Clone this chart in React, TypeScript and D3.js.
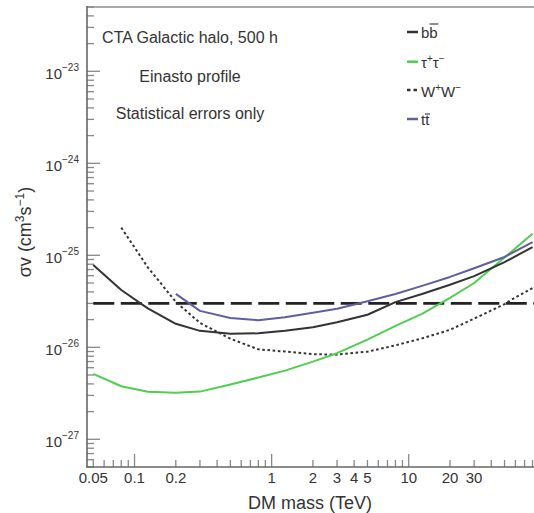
import React from "react";
import * as d3 from "d3";

// ---- data ----
const massBB = [0.05, 0.08, 0.125, 0.2, 0.3, 0.5, 0.8, 1.25, 2, 3, 5, 8, 12.5, 20, 30, 50, 80];
const svBB = [7.85e-26, 4.2e-26, 2.65e-26, 1.8e-26, 1.51e-26, 1.4e-26, 1.42e-26, 1.51e-26, 1.65e-26, 1.87e-26, 2.26e-26, 3.1e-26, 3.79e-26, 4.79e-26, 5.94e-26, 8.42e-26, 1.23e-25];

const massTau = [0.05, 0.08, 0.125, 0.2, 0.3, 0.5, 0.8, 1.25, 2, 3, 5, 8, 12.5, 20, 30, 50, 80];
const svTau = [5.14e-27, 3.77e-27, 3.28e-27, 3.2e-27, 3.3e-27, 3.94e-27, 4.69e-27, 5.58e-27, 6.98e-27, 8.63e-27, 1.21e-26, 1.71e-26, 2.31e-26, 3.45e-26, 5.0e-26, 9.46e-26, 1.72e-25];

const massWW = [0.08, 0.125, 0.2, 0.3, 0.5, 0.8, 1.25, 2, 3, 5, 8, 12.5, 20, 30, 50, 56, 80];
const svWW = [2.0e-25, 7.4e-26, 3.12e-26, 1.84e-26, 1.24e-26, 9.5e-27, 9.0e-27, 8.42e-27, 8.32e-27, 8.96e-27, 1.05e-26, 1.25e-26, 1.55e-26, 2.05e-26, 2.95e-26, 3.28e-26, 4.4e-26];

const massTT = [0.2, 0.3, 0.5, 0.8, 1.25, 2, 3, 5, 8, 12.5, 20, 30, 50, 80];
const svTT = [3.81e-26, 2.49e-26, 2.08e-26, 1.97e-26, 2.12e-26, 2.38e-26, 2.63e-26, 3.16e-26, 3.8e-26, 4.65e-26, 5.82e-26, 7.23e-26, 9.59e-26, 1.39e-25];

const thermalSV = 3e-26;
const thermalRange = [0.05, 82];

const xTickLabels = [0.05, 0.1, 0.2, 1, 2, 3, 4, 5, 10, 20, 30];
const xMajor = [0.1, 1, 10];
const yMajorExp = [-27, -26, -25, -24, -23];

const textLines = ["CTA Galactic halo, 500 h", "Einasto profile", "Statistical errors only"];

const FONT = "'Liberation Sans', Arial, Helvetica, sans-serif";

export default function App() {
  const W = 534, H = 513;
  const x = d3.scaleLog().domain([0.045, 82]).range([87, 534]);
  const y = d3.scaleLog().domain([5e-28, 5e-23]).range([467, 7]);

  const line = d3
    .line<[number, number]>()
    .x((d) => x(d[0]))
    .y((d) => y(d[1]));

  const zip = (m: number[], v: number[]) => m.map((mm, i) => [mm, v[i]] as [number, number]);

  // minor ticks
  const xMinor: number[] = [];
  for (let e = -2; e <= 1; e++) {
    for (let k = 1; k <= 9; k++) {
      const v = k * Math.pow(10, e);
      const [a, b] = x.domain();
      if (v >= a && v <= b && !xMajor.some((mv) => Math.abs(mv - v) / v < 1e-6)) xMinor.push(v);
    }
  }
  const yMinor: number[] = [];
  for (let e = -28; e <= -23; e++) {
    for (let k = 2; k <= 9; k++) {
      const v = k * Math.pow(10, e);
      if (v >= 5e-28 && v <= 5e-23) yMinor.push(v);
    }
  }

  const axisColor = "#666";
  const tickColor = "#888";
  const textColor = "#333";

  const legendX0 = 407, legendX1 = 418, legendTX = 421;
  const legendY = [32, 61.7, 90, 119];

  return (
    <div style={{ position: "absolute", left: 0, top: 0, width: W, height: H, overflow: "hidden", background: "#fff" }}>
      <svg width={W} height={H} style={{ display: "block", fontFamily: FONT }}>
        <rect x={0} y={0} width={W} height={H} fill="#fff" />

        {/* top frame */}
        <line x1={87} x2={534} y1={7} y2={7} stroke="#aaa" strokeWidth={2} />

        {/* y ticks */}
        {yMinor.map((v, i) => (
          <line key={"ym" + i} x1={87} x2={94} y1={y(v)} y2={y(v)} stroke={tickColor} strokeWidth={1.3} />
        ))}
        {yMajorExp.map((e) => (
          <line key={"yM" + e} x1={87} x2={100} y1={y(Math.pow(10, e))} y2={y(Math.pow(10, e))} stroke={tickColor} strokeWidth={1.3} />
        ))}
        {/* x ticks */}
        {xMinor.map((v, i) => (
          <line key={"xm" + i} x1={x(v)} x2={x(v)} y1={467} y2={460} stroke={tickColor} strokeWidth={1.3} />
        ))}
        {xMajor.map((v, i) => (
          <line key={"xM" + i} x1={x(v)} x2={x(v)} y1={467} y2={454} stroke={tickColor} strokeWidth={1.3} />
        ))}

        {/* axes */}
        <line x1={87} x2={87} y1={6} y2={467} stroke={axisColor} strokeWidth={1.6} />
        <line x1={86} x2={534} y1={467} y2={467} stroke={axisColor} strokeWidth={1.6} />

        {/* y labels */}
        {yMajorExp.map((e) => (
          <text key={"yl" + e} x={79} y={y(Math.pow(10, e)) + 7.5} textAnchor="end" fontSize={15} fill={textColor}>
            10
            <tspan dy={-8} fontSize={10}>{"\u2212" + Math.abs(e)}</tspan>
          </text>
        ))}
        {/* x labels */}
        {xTickLabels.map((v, i) => (
          <text key={"xl" + i} x={x(v)} y={483} textAnchor="middle" fontSize={15} fill={textColor}>
            {String(v)}
          </text>
        ))}

        {/* axis titles */}
        <text x={310} y={509} textAnchor="middle" fontSize={18} fill={textColor}>
          DM mass (TeV)
        </text>
        <text transform="translate(31,232) rotate(-90)" textAnchor="middle" fontSize={18} fill={textColor}>
          σv (cm
          <tspan dy={-7} fontSize={12}>3</tspan>
          <tspan dy={7}>s</tspan>
          <tspan dy={-7} fontSize={12}>{"\u22121"}</tspan>
          <tspan dy={7}>)</tspan>
        </text>

        {/* annotations */}
        {textLines.map((t, i) => (
          <text key={"t" + i} x={190} y={[43, 81.5, 119][i]} textAnchor="middle" fontSize={16} fill={textColor}>
            {t}
          </text>
        ))}

        {/* thermal relic dashed line */}
        <line
          x1={x(thermalRange[0])}
          x2={x(thermalRange[1])}
          y1={y(thermalSV)}
          y2={y(thermalSV)}
          stroke="#222"
          strokeWidth={2.6}
          strokeDasharray="21,6.5"
        />

        {/* curves */}
        <g fill="none" strokeLinejoin="round">
          <path d={line(zip(massWW, svWW)) || ""} stroke="#333" strokeWidth={2} strokeDasharray="2.6,2.6" />
          <path d={line(zip(massTau, svTau)) || ""} stroke="#4fce4f" strokeWidth={2} />
          <path d={line(zip(massTT, svTT)) || ""} stroke="#5e5ea0" strokeWidth={2} />
          <path d={line(zip(massBB, svBB)) || ""} stroke="#333" strokeWidth={2} />
        </g>

        {/* legend */}
        <line x1={legendX0} x2={legendX1} y1={legendY[0]} y2={legendY[0]} stroke="#333" strokeWidth={2.5} />
        <line x1={legendX0} x2={legendX1} y1={legendY[1]} y2={legendY[1]} stroke="#4fce4f" strokeWidth={2.5} />
        <line x1={legendX0} x2={legendX1} y1={legendY[2]} y2={legendY[2]} stroke="#333" strokeWidth={2.5} strokeDasharray="3.5,3" />
        <line x1={legendX0} x2={legendX1} y1={legendY[3]} y2={legendY[3]} stroke="#5e5ea0" strokeWidth={2.5} />

        <text x={legendTX} y={legendY[0] + 6} fontSize={15} fill={textColor}>bb</text>
        <line x1={429.5} x2={438.5} y1={24} y2={24} stroke={textColor} strokeWidth={1.1} />

        <text x={legendTX} y={legendY[1] + 6} fontSize={15} fill={textColor}>
          τ<tspan dy={-6} fontSize={10}>+</tspan>
          <tspan dy={6}>τ</tspan>
          <tspan dy={-6} fontSize={10}>{"\u2212"}</tspan>
        </text>

        <text x={legendTX} y={legendY[2] + 6.5} fontSize={15} fill={textColor}>
          W<tspan dy={-6} fontSize={10}>+</tspan>
          <tspan dy={6}>W</tspan>
          <tspan dy={-6} fontSize={10}>{"\u2212"}</tspan>
        </text>

        <text x={legendTX} y={legendY[3] + 6} fontSize={15} fill={textColor}>tt</text>
        <line x1={425} x2={430} y1={114} y2={114} stroke={textColor} strokeWidth={1.1} />
      </svg>
    </div>
  );
}
